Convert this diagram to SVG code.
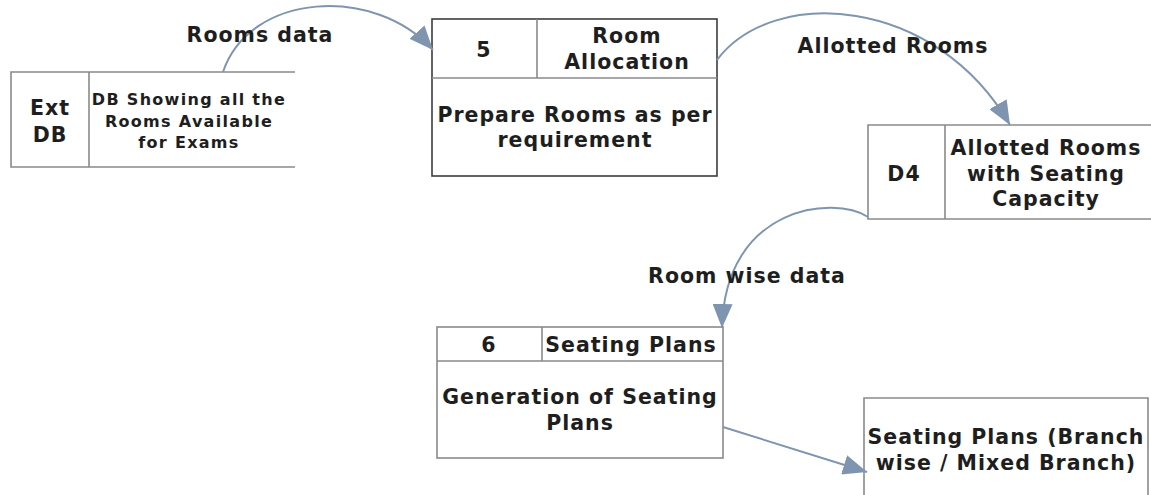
<svg xmlns="http://www.w3.org/2000/svg" width="1151" height="495" viewBox="0 0 1151 495">
<style>
.t{font-family:"DejaVu Sans",Verdana,sans-serif;font-weight:bold;font-size:20.5px;letter-spacing:1px;fill:#1e1e1e;text-anchor:middle}
.s{font-size:16px;letter-spacing:1.3px}
.box{fill:#fff;stroke:#8a8a8a;stroke-width:1.6}
.dark{stroke:#3c3c3c}
.ln{fill:none;stroke:#8a8a8a;stroke-width:1.6}
.conn{fill:none;stroke:#7f95af;stroke-width:2}
</style>
<defs>
<marker id="ah" markerUnits="userSpaceOnUse" markerWidth="24" markerHeight="20" refX="24" refY="10" orient="auto" viewBox="0 0 24 20">
<path d="M0,0 L24,10 L0,20 z" fill="#7f95af"/>
</marker>
</defs>
<rect width="1151" height="495" fill="#fff"/>

<g id="extdb">
<path class="ln" d="M295,72 H11 V167 H295 M89,72 V167"/>
<text class="t" x="50" y="115">Ext</text>
<text class="t" x="50" y="142">DB</text>
<text class="t s" x="189" y="105">DB Showing all the</text>
<text class="t s" x="189" y="127">Rooms Available</text>
<text class="t s" x="189" y="148">for Exams</text>
</g>

<g id="p5">
<rect class="box dark" x="432" y="19" width="285" height="157"/>
<path class="ln dark" d="M432,78 H717 M537,19 V78"/>
<text class="t" x="484" y="57">5</text>
<text class="t" x="627" y="43">Room</text>
<text class="t" x="627" y="69">Allocation</text>
<text class="t" x="575" y="122">Prepare Rooms as per</text>
<text class="t" x="575" y="147">requirement</text>
</g>

<g id="d4">
<path class="ln" d="M1151,125 H868 V219 H1151 M945,125 V219"/>
<text class="t" x="904" y="181">D4</text>
<text class="t" x="1046" y="155">Allotted Rooms</text>
<text class="t" x="1046" y="181">with Seating</text>
<text class="t" x="1046" y="206">Capacity</text>
</g>

<g id="p6">
<rect class="box" x="437" y="327" width="286" height="131"/>
<path class="ln" d="M437,361 H723 M542,327 V361"/>
<text class="t" x="489" y="352">6</text>
<text class="t" x="631" y="352">Seating Plans</text>
<text class="t" x="580" y="404">Generation of Seating</text>
<text class="t" x="580" y="430">Plans</text>
</g>

<g id="out">
<path class="ln" d="M864,500 V398 H1148 V500"/>
<text class="t" x="1006" y="444">Seating Plans (Branch</text>
<text class="t" x="1006" y="470">wise / Mixed Branch)</text>
</g>

<g id="connectors">
<path class="conn" d="M223,72 C250,-8 375,-15 433,50" marker-end="url(#ah)"/>
<path class="conn" d="M717,60 C772,-14 935,-5 1010,125" marker-end="url(#ah)"/>
<path class="conn" d="M868,217 C835,195 725,205 722,328" marker-end="url(#ah)"/>
<path class="conn" d="M723,427 L867,472" marker-end="url(#ah)"/>
<text class="t" x="260" y="42">Rooms data</text>
<text class="t" x="893" y="53">Allotted Rooms</text>
<text class="t" x="747" y="283">Room wise data</text>
</g>
</svg>
